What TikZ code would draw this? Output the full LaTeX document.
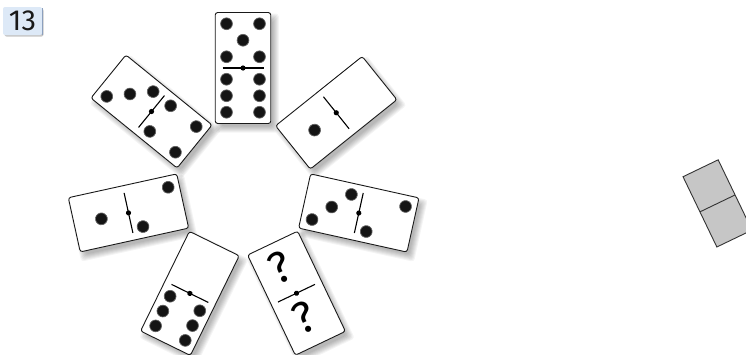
\documentclass[tikz,border=0pt]{standalone}
\usepackage{fontspec}
\setmainfont{Fira Sans}
\definecolor{labelbg}{RGB}{221,233,247}
\definecolor{labeledge}{RGB}{140,160,190}
\definecolor{tilegray}{RGB}{198,198,198}
\tikzset{
  dom/.style={draw=black!90, line width=0.9pt, fill=white, rounded corners=2.5pt},
  pipdot/.style={fill=black!92, draw=black!62, line width=0.7pt},
  divline/.style={draw=black, line width=1.1pt},
  shadelayer/.style={fill=black, opacity=0.045},
  qmark/.style={font=\fontsize{44}{44}\selectfont, inner sep=0pt, transform shape, rotate=90},
}
\newcommand\dpip[2]{\path[pipdot] (#1,#2) circle[radius=5.9pt];}
\newcommand\hZero{}
\newcommand\hOne{\dpip{0}{0}}
\newcommand\hTwo{\dpip{-16.5}{-16.5}\dpip{16.5}{16.5}}
\newcommand\hThree{\dpip{-16.5}{-16.5}\dpip{0}{0}\dpip{16.5}{16.5}}
\newcommand\hFour{\dpip{-16.5}{-16.5}\dpip{16.5}{16.5}\dpip{-16.5}{16.5}\dpip{16.5}{-16.5}}
\newcommand\hFive{\hFour\dpip{0}{0}}
\newcommand\hSix{\hFour\dpip{0}{16.5}\dpip{0}{-16.5}}
\newcommand\hQuest{\node[qmark] at (-2,-3.5) {?};}
\newcommand\domshadow[3]{%
  \begin{scope}[shift={(#1+4,-#2-5)}, rotate=#3]
    \foreach \k in {0,...,6}{%
      \fill[shadelayer, rounded corners=3pt] (-53.5-\k,-25.75-\k) rectangle (53.5+\k,25.75+\k);}
  \end{scope}}
\newcommand\domino[5]{%
  \begin{scope}[shift={(#1,-#2)}, rotate=#3]
    \draw[dom] (-55.5,-27.75) rectangle (55.5,27.75);
    \begin{scope}[shift={(-27.75,0)}] #4 \end{scope}
    \begin{scope}[shift={(27.75,0)}] #5 \end{scope}
    \draw[divline] (0,-20.5) -- (0,20.5);
    \fill (0,0) circle[radius=2.6pt];
  \end{scope}}
\begin{document}
\begin{tikzpicture}[x=1pt, y=1pt]
\useasboundingbox (0,0) rectangle (746,-354);
\clip (0,0) rectangle (746,-354);
\fill[white] (0,0) rectangle (746,-354);

% label
\fill[black!22, rounded corners=2pt] (4.5,-8.5) rectangle (43.5,-36.5);
\fill[labelbg, rounded corners=2pt] (3,-7) rectangle (42,-35);
\draw[labeledge, line width=1pt] (42,-8) -- (42,-34.5);
\node[font=\fontsize{29}{29}\selectfont, text=black!90, inner sep=0pt] (num) at (22.5,-21) {13};

% shadows
\domshadow{243}{68}{-90}
\domshadow{336.25}{112.75}{38.7}
\domshadow{151.5}{111.5}{-39.1}
\domshadow{128.5}{212.9}{12.4}
\domshadow{189.9}{293.4}{-116.1}
\domshadow{296.5}{293.2}{-64.5}
\domshadow{358.8}{213}{-12.5}

% dominoes
\domino{243}{68}{-90}{\hFive}{\hSix}
\domino{336.25}{112.75}{38.7}{\hOne}{\hZero}
\domino{151.5}{111.5}{-39.1}{\hThree}{\hFour}
\domino{128.5}{212.9}{12.4}{\hOne}{\hTwo}
\domino{189.9}{293.4}{-116.1}{\hZero}{\hSix}
\domino{296.5}{293.2}{-64.5}{\hQuest}{\hQuest}
\domino{358.8}{213}{-12.5}{\hThree}{\hTwo}

% grey answer tile
\begin{scope}[shift={(717.5,-203.4)}, rotate=-64.3]
  \draw[fill=tilegray, draw=black!80, line width=0.9pt] (-39,-19.5) rectangle (39,19.5);
  \draw[black!80, line width=0.9pt] (0,-19.5) -- (0,19.5);
\end{scope}
\end{tikzpicture}
\end{document}
